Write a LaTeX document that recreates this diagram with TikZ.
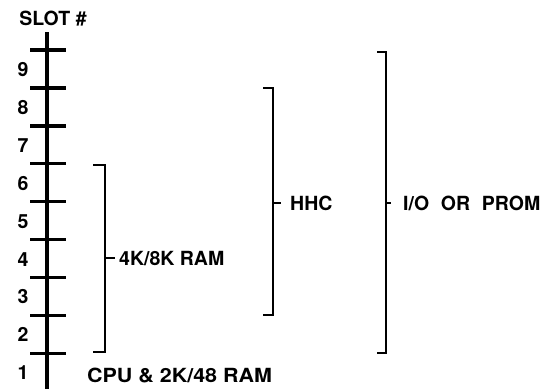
\documentclass[tikz,border=0pt]{standalone}
\usepackage{fontspec}
\setmainfont{TeX Gyre Heros}
\usetikzlibrary{positioning}

\tikzset{
  lbl/.style={font=\bfseries\fontsize{19.5}{19.5}\selectfont, inner sep=0pt, text height=14pt, text depth=0pt},
  axisline/.style={line width=3.4pt},
  brk/.style={line width=2.8pt, line join=miter},
}

\begin{document}
\begin{tikzpicture}[x=1pt,y=-1pt]
\useasboundingbox (0,0) rectangle (557,389);
% slot axis
\node[lbl] (slot) at (53,18) {SLOT \#};
\draw[axisline] (47,32) -- (47,389);
\foreach \k in {0,...,8}
  \draw[axisline] (30,50+37.9*\k) -- (66,50+37.9*\k);
\foreach \n [count=\k from 0] in {9,...,1}
  \node[lbl] (n\n) at (23,69.5+37.9*\k) {\n};
\node[lbl,anchor=west] (cpu) at (87,375) {\scalebox{1.1}[1]{CPU \& 2K/48 RAM}};
% brackets
\node[lbl,anchor=west] (ram) at (119,258) {4K/8K RAM};
\draw[brk] (93,165) -- (105,165) -- (105,352) -- (93,352)
  (105,258) -- ([xshift=-4pt]ram.west);
\node[lbl,anchor=west] (hhc) at (290,203) {HHC};
\draw[brk] (263,88) -- (273,88) -- (273,315) -- (263,315)
  (273,203) -- ([xshift=-9pt]hhc.west);
\node[lbl,anchor=west] (io) at (403,203) {I/O\hspace{0.6em}OR\hspace{0.6em}PROM};
\draw[brk] (377,52) -- (386,52) -- (386,353) -- (377,353)
  (386,203) -- ([xshift=-12pt]io.west);
\end{tikzpicture}
\end{document}
